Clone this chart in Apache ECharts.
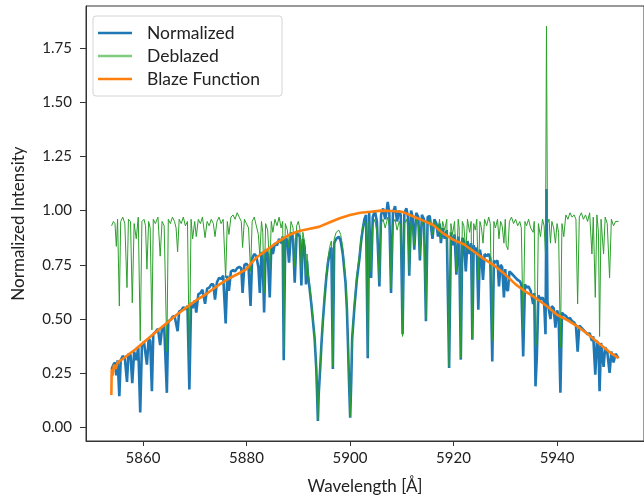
<!DOCTYPE html>
<html>
<head>
<meta charset="utf-8">
<script src="https://cdn.jsdelivr.net/npm/echarts@6/dist/echarts.min.js"></script>
<style>html,body{margin:0;padding:0;background:#fff}#c{width:644px;height:500px}</style>
</head>
<body>
<div id="c"></div>
<script>
// Wavelength grid (Å) shared by the Normalized and Deblazed spectra
const wave = [
5853.95,5854.3,5854.6,5854.86,5855.1,5855.44,5855.7,5856.1,5856.5,5856.92,
5857.2,5857.6,5857.94,5858.3,5858.71,5859.1,5859.48,5859.8,5860.2,5860.5,
5860.77,5861.1,5861.4,5861.73,5862.0,5862.4,5862.9,5863.33,5863.7,5864.1,
5864.62,5864.9,5865.3,5865.7,5866.1,5866.4,5866.7,5867.0,5867.4,5867.8,
5868.2,5868.6,5868.97,5869.3,5869.6,5870.0,5870.3,
5870.7,5871.1,5871.5,5872.0,5872.4,5872.8,5873.2,5873.6,5873.92,5874.3,
5874.7,5875.1,5875.5,5875.98,5876.3,5876.61,5877.0,5877.4,5877.8,5878.2,
5878.6,5879.0,5879.25,5879.6,5880.0,5880.4,5880.79,5881.1,5881.5,5881.9,
5882.3,5882.58,5882.9,5883.15,5883.41,5883.7,5884.1,5884.5,5884.8,5885.1,
5885.5,5885.9,5886.3,5886.7,5887.0,5887.2,5887.5,5887.9,5888.22,5888.6,
5889.0,5889.32,5889.7,
5890.0,5890.3,5890.61,5890.9,5891.24,5891.5,5891.7,5891.88,5892.2,5892.53,
5892.85,5893.17,5893.49,5893.65,5893.8,5893.95,5894.26,5894.5,5894.76,5895.1,
5895.42,5895.75,5896.05,5896.4,5896.69,5896.95,5897.34,5897.84,5898.2,5898.61,
5899.13,5899.4,5899.58,5899.8,5900.04,5900.25,5900.42,5900.87,5901.31,5901.83,
5902.16,5902.5,5902.79,
5903.1,5903.43,5903.7,5904.08,5904.4,5904.8,5905.2,5905.68,5906.0,5906.4,
5906.8,5907.1,5907.28,5907.6,5907.93,5908.3,5908.7,5909.1,5909.5,5909.8,
5910.16,5910.5,5910.9,5911.2,
5911.45,5911.8,5912.1,5912.42,5912.8,5913.2,5913.51,5913.9,5914.3,5914.67,
5915.0,5915.4,5915.94,5916.3,5916.7,5917.0,5917.3,5917.56,5917.9,5918.3,
5918.7,5919.15,5919.5,5919.8,5920.2,5920.56,5920.9,5921.1,5921.41,5921.7,
5922.0,5922.37,5922.7,5923.1,5923.4,5923.64,5923.9,5924.2,5924.5,5924.79,
5925.1,5925.4,5925.7,5926.0,5926.4,5926.8,5927.1,5927.49,5927.8,5928.1,
5928.5,5928.78,5929.1,5929.4,5929.74,5930.0,
5930.18,5930.51,5930.8,5931.2,5931.6,5932.0,5932.4,5932.8,5933.1,5933.46,
5933.8,5934.1,5934.5,5934.9,5935.38,5935.6,5935.84,5936.1,5936.4,5936.8,
5937.2,5937.5,5937.77,5937.96,5938.15,5938.45,5938.73,5939.0,5939.35,5939.69,
5940.0,5940.3,5940.65,5940.95,5941.3,5941.7,5942.1,5942.5,5942.9,5943.3,
5943.65,5943.98,5944.3,5944.7,5945.1,5945.5,5945.9,5946.3,5946.74,5947.0,
5947.39,5947.7,5948.0,5948.22,5948.5,5948.99,5949.3,5949.7,5950.15,5950.5,
5950.92,5951.3,5951.88
];

const normalized = [
0.27,0.29,0.30,0.24,0.31,0.145,0.31,0.33,0.32,0.21,
0.34,0.335,0.205,0.35,0.31,0.37,0.07,0.38,0.395,0.39,
0.29,0.41,0.40,0.167,0.43,0.44,0.455,0.38,0.46,0.47,
0.16,0.49,0.495,0.51,0.515,0.51,0.444,0.535,0.54,0.555,
0.545,0.56,0.175,0.575,0.55,0.585,0.53,
0.615,0.62,0.635,0.57,0.64,0.645,0.66,0.66,0.59,0.67,
0.69,0.685,0.70,0.48,0.70,0.63,0.72,0.725,0.72,0.735,
0.74,0.735,0.62,0.75,0.755,0.74,0.56,0.78,0.80,0.79,
0.74,0.62,0.81,0.76,0.53,0.82,0.80,0.60,0.84,0.80,
0.85,0.84,0.87,0.85,0.88,0.31,0.88,0.86,0.76,0.90,
0.87,0.668,0.90,
0.89,0.88,0.655,0.87,0.83,0.66,0.77,0.70,0.64,0.57,
0.49,0.41,0.27,0.15,0.03,0.15,0.28,0.39,0.49,0.60,
0.69,0.76,0.80,0.83,0.27,0.85,0.87,0.88,0.86,0.80,
0.67,0.55,0.41,0.22,0.045,0.22,0.41,0.56,0.68,0.78,
0.86,0.92,0.96,
0.98,0.32,0.99,0.69,0.97,1.00,0.95,0.65,0.98,1.01,
0.96,1.00,1.04,0.99,0.62,0.99,1.02,0.95,1.00,0.98,
0.43,0.99,1.01,0.97,
0.70,1.00,0.97,0.82,0.99,0.97,0.77,0.98,0.96,0.49,
0.97,0.975,0.87,0.96,0.94,0.88,0.94,0.85,0.92,0.87,
0.91,0.275,0.90,0.84,0.89,0.705,0.88,0.85,0.313,0.875,
0.86,0.72,0.86,0.80,0.85,0.405,0.84,0.80,0.83,0.543,
0.82,0.78,0.68,0.80,0.79,0.80,0.78,0.305,0.77,0.76,
0.77,0.651,0.75,0.74,0.60,0.73,
0.64,0.63,0.72,0.71,0.70,0.69,0.68,0.675,0.66,0.328,
0.66,0.645,0.65,0.63,0.57,0.62,0.19,0.33,0.61,0.59,
0.60,0.58,0.43,1.10,0.58,0.575,0.50,0.56,0.55,0.46,
0.54,0.52,0.16,0.53,0.52,0.515,0.50,0.505,0.49,0.485,
0.47,0.35,0.47,0.46,0.45,0.44,0.43,0.435,0.40,0.42,
0.244,0.40,0.37,0.167,0.39,0.28,0.37,0.35,0.252,0.35,
0.30,0.34,0.32
];

const deblazed = [
0.93,0.95,0.94,0.835,0.96,0.56,0.95,0.97,0.94,0.645,
0.96,0.95,0.575,0.94,0.87,0.97,0.40,0.95,0.96,0.93,
0.73,0.95,0.92,0.45,0.96,0.94,0.97,0.79,0.95,0.93,
0.35,0.96,0.94,0.97,0.95,0.92,0.81,0.96,0.94,0.97,
0.93,0.95,0.31,0.96,0.87,0.95,0.88,
0.96,0.94,0.97,0.875,0.95,0.93,0.96,0.94,0.88,0.95,
0.97,0.94,0.96,0.69,0.95,0.89,0.97,0.98,0.96,0.99,
0.97,0.95,0.83,0.96,0.94,0.92,0.72,0.95,0.97,0.93,
0.89,0.79,0.95,0.90,0.62,0.94,0.91,0.73,0.95,0.90,
0.96,0.93,0.97,0.92,0.95,0.36,0.94,0.91,0.83,0.95,
0.92,0.74,0.93,
0.95,0.92,0.72,0.90,0.85,0.70,0.80,0.73,0.66,0.59,
0.50,0.42,0.28,0.15,0.035,0.15,0.29,0.40,0.50,0.62,
0.71,0.78,0.83,0.86,0.28,0.87,0.90,0.91,0.89,0.83,
0.69,0.57,0.42,0.23,0.05,0.23,0.42,0.58,0.70,0.80,
0.88,0.93,0.95,
0.94,0.33,0.95,0.72,0.93,0.96,0.90,0.67,0.94,0.96,
0.92,0.95,0.97,0.93,0.64,0.94,0.96,0.91,0.95,0.93,
0.42,0.94,0.96,0.93,
0.71,0.95,0.92,0.84,0.96,0.93,0.79,0.95,0.92,0.50,
0.94,0.96,0.89,0.95,0.93,0.90,0.96,0.87,0.95,0.91,
0.96,0.28,0.94,0.89,0.95,0.72,0.96,0.92,0.32,0.95,
0.93,0.81,0.96,0.90,0.95,0.41,0.94,0.91,0.96,0.68,
0.95,0.92,0.85,0.96,0.93,0.97,0.94,0.40,0.95,0.92,
0.96,0.87,0.95,0.93,0.85,0.96,
0.84,0.82,0.95,0.97,0.94,0.96,0.93,0.95,0.92,0.45,
0.95,0.93,0.96,0.92,0.90,0.95,0.37,0.40,0.94,0.88,
0.96,0.93,0.80,1.85,0.94,0.96,0.85,0.95,0.92,0.85,
0.94,0.90,0.37,0.94,0.88,0.98,0.96,0.99,0.97,0.98,
0.96,0.57,0.97,0.99,0.96,0.98,0.95,0.99,0.80,0.97,
0.60,0.98,0.90,0.42,0.96,0.80,0.97,0.94,0.69,0.96,
0.93,0.95,0.95
];

// Blaze function (smooth)
const blazeWave = [5853.9,5853.97,5854.15,5854.4,5854.75,5855.1,5856.0,5858.5,5860.5,5862.5,
5864.5,5866.5,5868.5,5870.5,5872.5,5874.5,5876.5,5878.5,5880.0,5881.0,
5882.0,5884.0,5886.0,5888.0,5890.0,5892.0,5894.0,5896.0,5898.0,5900.0,
5902.0,5904.0,5906.0,5908.0,5910.0,5912.0,5914.0,5916.0,5918.0,5920.0,
5922.0,5924.0,5926.0,5928.0,5930.0,5932.0,5934.0,5936.0,5938.0,5940.0,
5942.0,5944.0,5946.0,5948.0,5950.0,5951.88];
const blaze = [0.15,0.27,0.24,0.29,0.27,0.30,0.315,0.36,0.40,0.44,
0.48,0.52,0.555,0.59,0.62,0.655,0.685,0.71,0.73,0.76,
0.785,0.82,0.855,0.885,0.905,0.915,0.925,0.945,0.965,0.98,
0.99,0.995,1.0,0.998,0.995,0.975,0.955,0.935,0.895,0.865,
0.845,0.81,0.775,0.745,0.705,0.66,0.625,0.595,0.56,0.52,
0.495,0.465,0.43,0.39,0.35,0.32];

const xTicks = [5860, 5880, 5900, 5920, 5940];
const yTicks = [0, 0.25, 0.5, 0.75, 1.0, 1.25, 1.5, 1.75];

const n = Math.min(wave.length, normalized.length, deblazed.length);
const pairs = (xs, ys) => xs.slice(0, Math.min(xs.length, ys.length)).map((x, i) => [x, ys[i]]);

const FONT = 'Lato';
const chart = echarts.init(document.getElementById('c'), null, {renderer: 'canvas'});
chart.setOption({
  animation: false,
  backgroundColor: '#fff',
  grid: {left: 86, top: 6, right: -2, bottom: 59, show: true, borderColor: '#333', borderWidth: 1, backgroundColor: 'transparent'},
  legend: {
    orient: 'vertical', left: 93, top: 16,
    padding: [8, 22, 8, 5], itemGap: 5, itemWidth: 34, itemHeight: 2.5,
    backgroundColor: 'rgba(255,255,255,0.85)', borderColor: '#d4d4d4', borderWidth: 1, borderRadius: 3,
    textStyle: {fontFamily: FONT, fontSize: 17.5, color: '#222', padding: [0, 0, 0, 10], lineHeight: 16},
    data: [
      {name: 'Normalized', icon: 'rect'},
      {name: 'Deblazed', icon: 'rect', itemStyle: {color: '#7fcc7f'}},
      {name: 'Blaze Function', icon: 'rect'}
    ]
  },
  xAxis: {
    type: 'value', min: 5849.0, max: 5956.8,
    name: 'Wavelength [Å]', nameLocation: 'middle', nameGap: 37,
    nameTextStyle: {fontFamily: FONT, fontSize: 17, color: '#222'},
    axisLine: {onZero: false, lineStyle: {color: '#333', width: 1}},
    axisTick: {length: 5, lineStyle: {color: '#333'}, customValues: xTicks},
    axisLabel: {fontFamily: FONT, fontSize: 15, color: '#222', margin: 10, customValues: xTicks, formatter: v => String(v)},
    splitLine: {show: false}
  },
  yAxis: {
    type: 'value', min: -0.062, max: 1.943,
    name: 'Normalized Intensity', nameLocation: 'middle', nameGap: 59,
    nameTextStyle: {fontFamily: FONT, fontSize: 17, color: '#222'},
    axisLine: {onZero: false, lineStyle: {color: '#333', width: 1}},
    axisTick: {length: 6, lineStyle: {color: '#333'}, customValues: yTicks},
    axisLabel: {fontFamily: FONT, fontSize: 15, color: '#222', margin: 14, customValues: yTicks, formatter: v => v.toFixed(2)},
    splitLine: {show: false}
  },
  series: [
    {name: 'Normalized', type: 'line', data: pairs(wave.slice(0, n), normalized), symbol: 'none', color: '#1f77b4',
     lineStyle: {width: 2.6, color: '#1f77b4'}},
    {name: 'Deblazed', type: 'line', data: pairs(wave.slice(0, n), deblazed), symbol: 'none', color: '#2ca02c',
     lineStyle: {width: 1, color: '#2ca02c'}},
    {name: 'Blaze Function', type: 'line', data: pairs(blazeWave, blaze), symbol: 'none', color: '#ff7f0e',
     lineStyle: {width: 2.6, color: '#ff7f0e'}}
  ]
});
</script>
</body>
</html>
